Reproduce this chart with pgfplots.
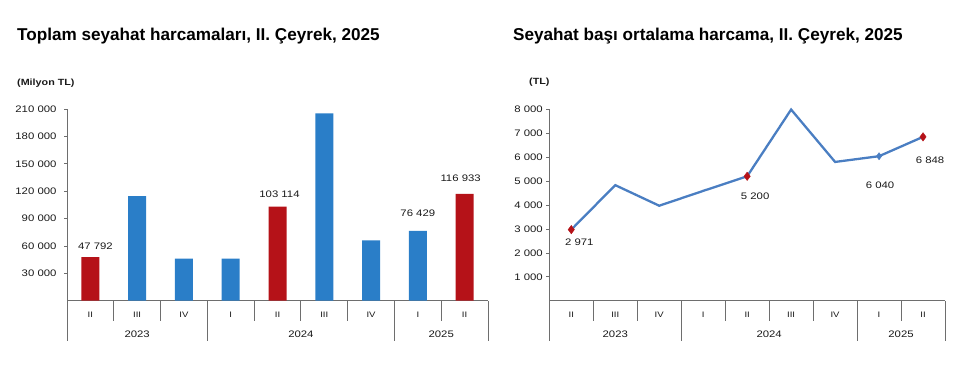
\documentclass[border=0pt]{standalone}
\usepackage{pgfplots}
\pgfplotsset{compat=1.18}
\usepackage{fontspec}
\setmainfont{Liberation Sans}
\newfontfamily\wide[FakeStretch=1.2]{Liberation Sans}
\definecolor{barblue}{HTML}{2A7EC8}
\definecolor{barred}{HTML}{B51218}
\definecolor{lineblue}{HTML}{4A7EC2}
\definecolor{axgray}{HTML}{6E6E6E}
\definecolor{txt}{HTML}{1A1A1A}
\pgfplotsset{
  qaxis/.style={
    scale only axis, anchor=origin,
    xmin=0, xmax=9, ymin=0,
    axis lines=left, axis line style={-, axgray, line width=0.9pt},
    tick align=outside,
    xtick={0.5,1.5,...,8.5},
    xticklabels={II,III,IV,I,II,III,IV,I,II},
    major x tick style={draw=none},
    minor xtick={1,2,4,5,6,8},
    minor tick length=20bp,
    minor x tick style={axgray, line width=0.9pt},
    extra x ticks={0,3,7,9},
    extra x tick labels={},
    extra x tick style={major tick length=40bp, major x tick style={draw=axgray, line width=0.9pt}},
    major tick length=3bp,
    ytick style={axgray, line width=0.7pt},
    xticklabel style={font=\wide\fontsize{8}{9}\selectfont, text=txt, yshift=-5bp},
    scaled y ticks=false,
    /pgf/number format/fixed,
    /pgf/number format/assume math mode=true,
    /pgf/number format/1000 sep={\ },
    clip=false,
  },
  lbl/.style 2 args={draw=none, mark=none, nodes near coords, point meta=explicit symbolic,
    every node near coord/.append style={font=\wide\fontsize{9.5}{10}\selectfont, text=txt, anchor=center, xshift=#1, yshift=#2}},
}
\begin{document}
\begin{tikzpicture}
\useasboundingbox (0,0) rectangle (975bp,-373bp);
\node[anchor=base west, inner sep=0pt, font=\bfseries\fontsize{17.2}{18}\selectfont, text=black] at (17bp,-40bp) {Toplam seyahat harcamaları, II. Çeyrek, 2025};
\node[anchor=base west, inner sep=0pt, font=\bfseries\fontsize{17.2}{18}\selectfont, text=black] at (513bp,-40bp) {Seyahat başı ortalama harcama, II. Çeyrek, 2025};
\node[anchor=west, inner sep=0pt, font=\wide\bfseries\fontsize{9}{10}\selectfont, text=txt] at (17bp,-83.3bp) {(Milyon TL)};
\node[anchor=west, inner sep=0pt, font=\wide\bfseries\fontsize{9}{10}\selectfont, text=txt] at (529bp,-81.7bp) {(TL)};

% left chart
\begin{axis}[qaxis, at={(67bp,-300.7bp)}, width=421bp, height=191.7bp,
  ymax=210000, ytick={30000,60000,...,210000},
  yticklabel style={font=\wide\fontsize{9.5}{10}\selectfont, text=txt, xshift=-4bp}]
\addplot[ybar, bar width=18bp, fill=barblue, draw=none] coordinates {
 (1.5,114600) (2.5,46000) (3.5,46000) (5.5,205200) (6.5,66100) (7.5,76429)};
\addplot[ybar, bar width=18bp, fill=barred, draw=none] coordinates {
 (0.5,47792) (4.5,103114) (8.5,116933)};
\addplot[lbl={5bp}{11bp}] coordinates {(0.5,47792) [47 792]};
\addplot[lbl={2bp}{12.7bp}] coordinates {(4.5,103114) [103 114]};
\addplot[lbl={0bp}{17.5bp}] coordinates {(7.5,76429) [76 429]};
\addplot[lbl={-4bp}{15.7bp}] coordinates {(8.5,116933) [116 933]};
\foreach \x/\y in {1.5/2023,5/2024,8/2025}{
  \edef\tmp{\noexpand\node[font=\noexpand\wide\noexpand\fontsize{9.5}{10}\noexpand\selectfont, text=txt] at (axis cs:\x,0) [yshift=-34bp] {\y};}\tmp}
\end{axis}

% right chart
\begin{axis}[qaxis, at={(549.3bp,-300.7bp)}, width=395.7bp, height=191.4bp,
  ymax=8000, ytick={1000,2000,...,8000},
  yticklabel style={font=\wide\fontsize{9.5}{10}\selectfont, text=txt, xshift=0bp}]
\addplot[lineblue, line width=2.3pt, mark=none] coordinates {
 (0.5,2971) (1.5,4830) (2.5,3970) (3.5,4590) (4.5,5200) (5.5,7990) (6.5,5800) (7.5,6040) (8.5,6848)};
\addplot[only marks, mark=diamond*, mark size=4.2bp, color=barred] coordinates {(0.5,2971) (4.5,5200) (8.5,6848)};
\addplot[only marks, mark=diamond*, mark size=3.6bp, color=lineblue] coordinates {(7.5,6040)};
\addplot[lbl={8bp}{-13bp}] coordinates {(0.5,2971) [2 971]};
\addplot[lbl={8bp}{-20bp}] coordinates {(4.5,5200) [5 200]};
\addplot[lbl={1bp}{-29.5bp}] coordinates {(7.5,6040) [6 040]};
\addplot[lbl={7bp}{-23bp}] coordinates {(8.5,6848) [6 848]};
\foreach \x/\y in {1.5/2023,5/2024,8/2025}{
  \edef\tmp{\noexpand\node[font=\noexpand\wide\noexpand\fontsize{9.5}{10}\noexpand\selectfont, text=txt] at (axis cs:\x,0) [yshift=-34bp] {\y};}\tmp}
\end{axis}
\end{tikzpicture}
\end{document}
